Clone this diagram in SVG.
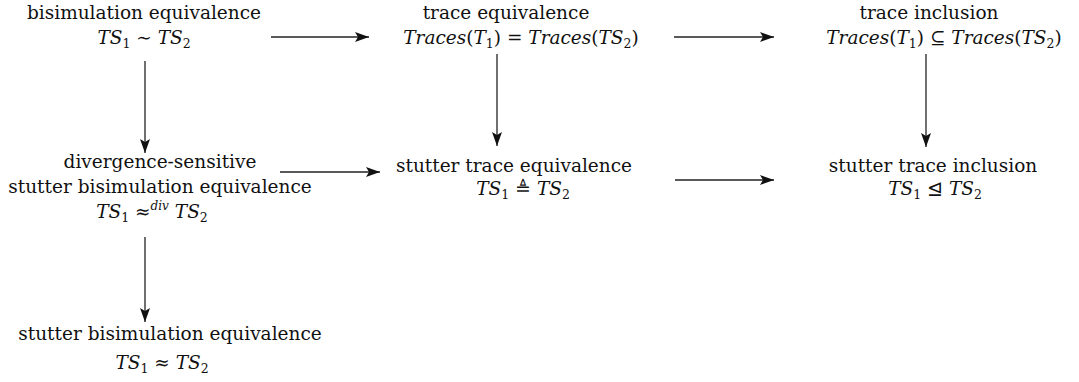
<svg xmlns="http://www.w3.org/2000/svg" width="1079" height="382" viewBox="0 0 1079 382">
<style>
text{font-family:'DejaVu Serif',serif;font-size:18.5px;fill:#111;text-anchor:middle}
.m{font-style:italic}
.s{font-size:12.5px;font-style:normal}
.si{font-size:12px;font-style:italic}
.e{stroke:#222;stroke-width:1.3;fill:none;marker-end:url(#ah)}
</style>
<defs>
<marker id="ah" markerUnits="userSpaceOnUse" markerWidth="16" markerHeight="10" refX="14" refY="5" orient="auto">
<path d="M0,0 L14,5 L0,10 L3,5 Z" fill="#111"/>
</marker>
</defs>
<g id="connectors">
<line class="e" x1="271" y1="37" x2="369" y2="37"/>
<line class="e" x1="674" y1="37" x2="774" y2="37"/>
<line class="e" x1="145" y1="61" x2="145" y2="153"/>
<line class="e" x1="497" y1="54" x2="497" y2="146"/>
<line class="e" x1="926" y1="54" x2="926" y2="147"/>
<line class="e" x1="280" y1="172" x2="380" y2="172"/>
<line class="e" x1="675" y1="180" x2="774" y2="180"/>
<line class="e" x1="145" y1="237" x2="145" y2="322"/>
</g>
<g id="bisim">
<text x="144" y="19">bisimulation equivalence</text>
<text x="144" y="44"><tspan class="m">TS</tspan><tspan class="s" dy="4">1</tspan><tspan dy="-4"> ∼ </tspan><tspan class="m">TS</tspan><tspan class="s" dy="4">2</tspan></text>
</g>
<g id="traceeq">
<text x="506" y="19">trace equivalence</text>
<text x="521" y="44"><tspan class="m">Traces</tspan>(<tspan class="m">T</tspan><tspan class="s" dy="4">1</tspan><tspan dy="-4">) = </tspan><tspan class="m">Traces</tspan>(<tspan class="m">TS</tspan><tspan class="s" dy="4">2</tspan><tspan dy="-4">)</tspan></text>
</g>
<g id="traceinc">
<text x="929" y="19">trace inclusion</text>
<text x="944" y="44"><tspan class="m">Traces</tspan>(<tspan class="m">T</tspan><tspan class="s" dy="4">1</tspan><tspan dy="-4">) ⊆ </tspan><tspan class="m">Traces</tspan>(<tspan class="m">TS</tspan><tspan class="s" dy="4">2</tspan><tspan dy="-4">)</tspan></text>
</g>
<g id="divstutter">
<text x="160" y="168">divergence-sensitive</text>
<text x="160" y="193">stutter bisimulation equivalence</text>
<text x="152" y="218"><tspan class="m">TS</tspan><tspan class="s" dy="4">1</tspan><tspan dy="-4"> ≈</tspan><tspan class="si" dy="-8">div</tspan><tspan dy="8"> </tspan><tspan class="m">TS</tspan><tspan class="s" dy="4">2</tspan></text>
</g>
<g id="stuttereq">
<text x="514" y="172">stutter trace equivalence</text>
<text x="523" y="195"><tspan class="m">TS</tspan><tspan class="s" dy="4">1</tspan><tspan dy="-4"> ≜ </tspan><tspan class="m">TS</tspan><tspan class="s" dy="4">2</tspan></text>
</g>
<g id="stutterinc">
<text x="933" y="172">stutter trace inclusion</text>
<text x="935" y="195"><tspan class="m">TS</tspan><tspan class="s" dy="4">1</tspan><tspan dy="-4"> ⊴ </tspan><tspan class="m">TS</tspan><tspan class="s" dy="4">2</tspan></text>
</g>
<g id="stutterbisim">
<text x="170" y="340">stutter bisimulation equivalence</text>
<text x="162" y="369"><tspan class="m">TS</tspan><tspan class="s" dy="4">1</tspan><tspan dy="-4"> ≈ </tspan><tspan class="m">TS</tspan><tspan class="s" dy="4">2</tspan></text>
</g>
</svg>
